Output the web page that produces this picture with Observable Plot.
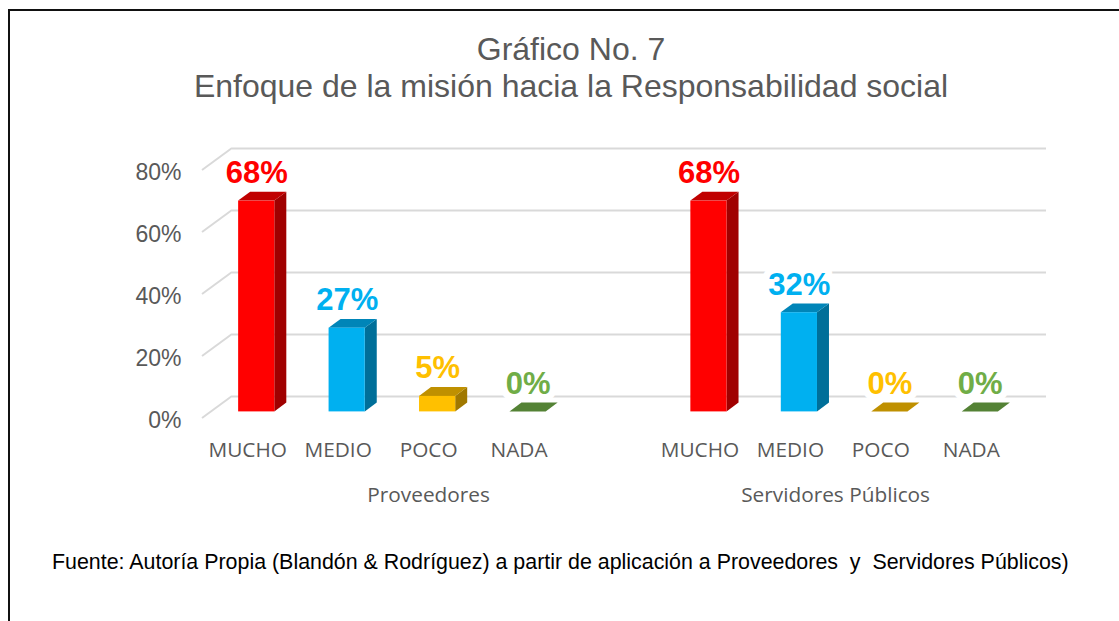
<!DOCTYPE html>
<html>
<head>
<meta charset="utf-8">
<script src="https://cdn.jsdelivr.net/npm/d3@7"></script>
<script src="https://cdn.jsdelivr.net/npm/@observablehq/plot@0.6"></script>
<style>
  body { margin: 0; background: #fff; }
  #wrap { position: relative; width: 1119px; height: 621px; overflow: hidden; background: #fff; }
  #frame { position: absolute; left: 8px; top: 9px; width: 1200px; height: 700px; border-left: 2px solid #111; border-top: 2px solid #111; }
  #title { position: absolute; left: 11px; width: 1120px; top: 31px; text-align: center; font-family: "Liberation Sans", Arial, sans-serif; font-size: 32px; line-height: 37px; color: #595959; }
  #chart { position: absolute; left: 0; top: 0; }
  #caption { position: absolute; left: 52px; top: 550px; white-space: pre; font-family: "Liberation Sans", Arial, sans-serif; font-size: 21.4px; color: #000; }
</style>
</head>
<body>
<div id="wrap">
  <div id="frame"></div>
  <div id="chart"></div>
  <div id="title">Gráfico No. 7<br>Enfoque de la misión hacia la Responsabilidad social</div>
  <div id="caption">Fuente: Autoría Propia (Blandón &amp; Rodríguez) a partir de aplicación a Proveedores  y  Servidores Públicos)</div>
</div>
<script>
// ---- data ----
const groups = ["Proveedores", "Servidores Públicos"];
const groupCategories = [
  ["MUCHO", "MEDIO", "POCO", "NADA", ""],
  ["MUCHO", "MEDIO", "POCO", "NADA"]
];
const groupValues = [
  [0.68, 0.27, 0.05, 0, null],
  [0.68, 0.32, 0, 0]
];
const yTicks = [0, 0.2, 0.4, 0.6, 0.8];
const categoryOrder = ["MUCHO", "MEDIO", "POCO", "NADA"];
const frontColors = ["#FF0000", "#00B0F0", "#FFC000", "#70AD47"];
const topColors   = ["#C00000", "#0085B8", "#BF9000", "#548235"];
const sideColors  = ["#A00000", "#006F99", "#A07800", "#44692B"];
const labelColors = ["#FF0000", "#00B0F0", "#FFC000", "#70AD47"];

// ---- build rows ----
const rows = [];
const groupRows = [];
let slot = 0;
groupCategories.forEach((cats, g) => {
  const slots = [];
  cats.forEach((c, j) => {
    slots.push(slot);
    rows.push({group: groups[g], category: c, value: groupValues[g][j], slot, ci: categoryOrder.indexOf(c)});
    slot++;
  });
  groupRows.push({group: groups[g], slot: d3.mean(slots)});
});
const barRows = rows.filter(d => d.value != null);
const nSlots = slot;

// 3D geometry (pixels): depth of the whole plot floor, bar occupies a middle slice
const DEPTH_X = 30, DEPTH_Y = -22, F0 = 0.3, F1 = 0.7, BAR_HALF = 0.2;
const GRID = "#d9d9d9";

function wallLines() {
  return Plot.ruleY(yTicks, {
    y: d => d,
    render(index, scales, values, dims) {
      const g = d3.create("svg:g").attr("stroke", GRID).attr("stroke-width", 2);
      const x0 = dims.marginLeft;
      for (const i of index) {
        const y = values.y[i];
        g.append("line").attr("x1", x0).attr("y1", y).attr("x2", x0 + DEPTH_X).attr("y2", y + DEPTH_Y);
      }
      return g.node();
    }
  });
}

function bars3d() {
  return Plot.rect(barRows, {
    x1: d => d.slot - BAR_HALF,
    x2: d => d.slot + BAR_HALF,
    y1: () => 0,
    y2: "value",
    render(index, scales, values) {
      const g = d3.create("svg:g");
      const ddx = DEPTH_X * (F1 - F0), ddy = DEPTH_Y * (F1 - F0);
      for (const i of index) {
        const d = barRows[i];
        const xl = values.x1[i] + DEPTH_X * F0, xr = values.x2[i] + DEPTH_X * F0;
        const yb = values.y1[i] + DEPTH_Y * F0, yt = values.y2[i] + DEPTH_Y * F0;
        g.append("path")
          .attr("d", `M${xr},${yb}L${xr + ddx},${yb + ddy}L${xr + ddx},${yt + ddy}L${xr},${yt}Z`)
          .attr("fill", sideColors[d.ci]);
        g.append("path")
          .attr("d", `M${xl},${yt}L${xr},${yt}L${xr + ddx},${yt + ddy}L${xl + ddx},${yt + ddy}Z`)
          .attr("fill", topColors[d.ci]);
        if (yb - yt > 0.5) {
          g.append("rect").attr("x", xl).attr("y", yt).attr("width", xr - xl).attr("height", yb - yt)
            .attr("fill", frontColors[d.ci]);
        }
      }
      return g.node();
    }
  });
}

const W = 1119, H = 621;
const plot = Plot.plot({
  width: W,
  height: H,
  marginLeft: 202,
  marginRight: 103,
  marginTop: 170,
  marginBottom: 203,
  x: {type: "linear", domain: [-0.5, nSlots - 0.5], axis: null},
  y: {domain: [0, 0.8], axis: null},
  style: {background: "transparent", overflow: "visible"},
  marks: [
    Plot.ruleY(yTicks, {y: d => d, dx: DEPTH_X, dy: DEPTH_Y, stroke: GRID, strokeWidth: 2}),
    wallLines(),
    bars3d(),
    Plot.text(yTicks, {
      y: d => d, frameAnchor: "left", text: d => Math.round(d * 100) + "%",
      textAnchor: "end", dx: -21, dy: 2, fontSize: 23, fill: "#595959",
      fontFamily: "Liberation Sans, Arial, sans-serif"
    }),
    Plot.text(barRows, {
      x: "slot", y: "value", text: d => Math.round(d.value * 100) + "%",
      dx: DEPTH_X * (F0 + F1) / 2 - 6, dy: DEPTH_Y * F0 - 18, lineAnchor: "bottom",
      fill: d => labelColors[d.ci], fontSize: 31, fontWeight: "bold",
      fontFamily: "Liberation Sans, Arial, sans-serif",
      stroke: "white", strokeWidth: 14, strokeLinejoin: "round", paintOrder: "stroke"
    }),
    Plot.text(rows.filter(d => d.category), {
      x: "slot", frameAnchor: "bottom", text: "category", dy: 38,
      fontSize: 20.8, fill: "#595959", fontFamily: "Open Sans, sans-serif"
    }),
    Plot.text(groupRows, {
      x: "slot", frameAnchor: "bottom", text: "group", dy: 83,
      fontSize: 20.8, fill: "#595959", fontFamily: "Open Sans, sans-serif"
    })
  ]
});
document.getElementById("chart").appendChild(plot);
</script>
</body>
</html>
